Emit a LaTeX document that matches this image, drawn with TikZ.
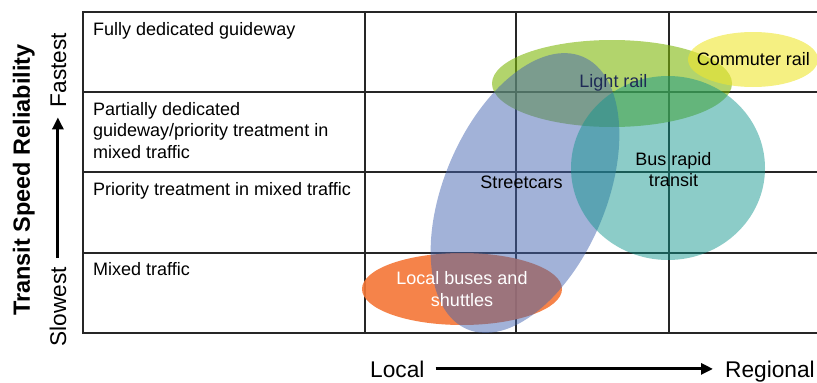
\documentclass[tikz,border=0pt]{standalone}
\usepackage{fontspec}
\setmainfont{Liberation Sans}
\usepackage{tikz}
\usepackage{xcolor}
\usetikzlibrary{arrows.meta, positioning, calc}

\definecolor{localbusfill}{RGB}{244,118,54}
\definecolor{lightrailfill}{RGB}{127,183,10}
\definecolor{streetcarfill}{RGB}{69,101,177}
\definecolor{brtfill}{RGB}{15,149,140}
\definecolor{commuterfill}{RGB}{238,230,47}
\definecolor{railtext}{RGB}{30,42,86}

\begin{document}
\begin{tikzpicture}[
    x=1pt, y=-1pt,
    gridline/.style={draw=black!85, line width=1.3pt},
    frameline/.style={draw=black!85, line width=2.8pt},
    celltext/.style={anchor=north west, inner sep=0pt, align=left, font=\fontsize{18}{21.5}\selectfont},
    modetext/.style={inner sep=0pt, align=center, font=\fontsize{18}{21.5}\selectfont},
    axislabel/.style={inner sep=0pt, font=\fontsize{22.7}{26}\selectfont},
    axisarrow/.style={draw, line width=3pt, -{Triangle[length=12pt, width=11pt]}}
]
    \clip (0,0) rectangle (817,383);

    % Grid
    \foreach \y in {92,172,253}
        \draw[gridline] (83,\y) -- (822,\y);
    \foreach \x in {365,516,669}
        \draw[gridline] (\x,12) -- (\x,333);
    \draw[frameline] (822,12) -- (83,12) -- (83,333) -- (822,333);

    % Row Labels
    \node[celltext] (fully) at (93,22) {Fully dedicated guideway};
    \node[celltext] (partial) at (93,102) {Partially dedicated\\guideway/priority treatment in\\mixed traffic};
    \node[celltext] (priority) at (93,182) {Priority treatment in mixed traffic};
    \node[celltext] (mixed) at (93,262) {Mixed traffic};

    % Mode Areas
    \fill[localbusfill, opacity=0.9] (462,289) ellipse [x radius=100, y radius=36];
    \fill[lightrailfill, opacity=0.6] (612,83.5) ellipse [x radius=120, y radius=43.5];
    \fill[streetcarfill, opacity=0.5, rotate around={67:(525,193)}] (525,193) ellipse [x radius=148, y radius=81];
    \fill[brtfill, opacity=0.48] (668,168) ellipse [x radius=97, y radius=92];
    \fill[commuterfill, opacity=0.6] (753,59.5) ellipse [x radius=65, y radius=27.5];

    % Mode Labels
    \node[modetext, anchor=base, text=railtext] (light) at (613.5,87) {Light rail};
    \node[modetext, anchor=base] (commuter) at (753.5,65) {Commuter rail};
    \node[modetext, anchor=base] (streetcar) at (521.5,188) {Streetcars};
    \node[modetext] (brt) at (673.5,169.5) {Bus rapid\\transit};
    \node[modetext, text=white] (localbus) at (462,289) {Local buses and\\shuttles};

    % Axes
    \node[inner sep=0pt, rotate=90, anchor=base, font=\fontsize{23.5}{28}\selectfont\bfseries] (speed) at (30,180) {Transit Speed Reliability};
    \node[axislabel, rotate=90, anchor=base] (slow) at (66,307) {Slowest};
    \node[axislabel, rotate=90, anchor=base] (fast) at (66,70) {Fastest};
    \draw[axisarrow, shorten <=9pt, shorten >=10pt] (slow.east) -- (slow.east |- fast.west);

    \node[axislabel, anchor=base west] (local) at (370,377) {Local};
    \node[axislabel, anchor=base west] (regional) at (725,377) {Regional};
    \draw[axisarrow, shorten <=11pt, shorten >=12pt] (local.east) -- (local.east -| regional.west);
\end{tikzpicture}
\end{document}
